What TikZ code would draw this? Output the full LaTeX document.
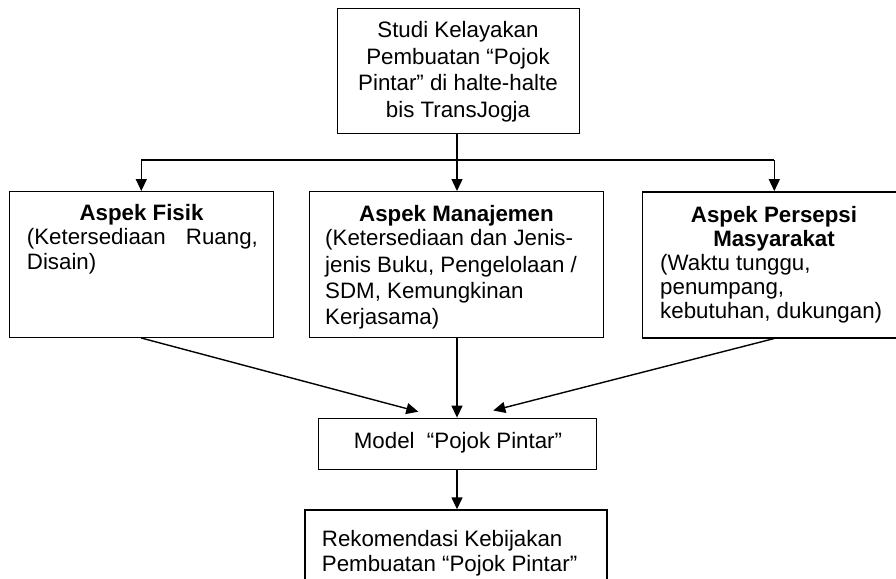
\documentclass[tikz,border=0pt]{standalone}
\usepackage{fontspec}
\setmainfont{Liberation Sans}
\usetikzlibrary{arrows.meta}
\begin{document}
\begin{tikzpicture}[x=1pt,y=-1pt,
  box/.style={draw, line width=1.4pt, inner sep=0pt},
  txt/.style={font=\fontsize{22.3}{26.7}\selectfont, inner sep=0pt},
  ttl/.style={inner sep=0pt, font=\fontsize{22.3}{26.7}\selectfont\bfseries, anchor=base},
  ln/.style={txt, anchor=base west},
  cl/.style={txt, anchor=base},
  conn/.style={line width=1.4pt},
  arr/.style={conn, -{Triangle[length=12pt,width=11pt]}}]
\useasboundingbox (0,0) rectangle (896,578);
\clip (0,0) rectangle (896,578);

% boxes
\node[box, minimum width=242pt, minimum height=125pt] (top) at (458.3,70.8) {};
\node[box, minimum width=264pt, minimum height=145.6pt] (fisik) at (141.3,264.5) {};
\node[box, minimum width=294pt, minimum height=145.6pt] (manaj) at (456.3,264.5) {};
\node[box, minimum width=263.3pt, minimum height=146pt] (persepsi) at (774.3,264.8) {};
\node[box, minimum width=278.4pt, minimum height=51pt] (model) at (457.5,443.8) {};
\node[box, minimum width=302pt, minimum height=90pt] (rec) at (456,555) {};

% texts
\node[cl] (t1) at (458,37.5) {Studi Kelayakan};
\node[cl] (t2) at (458,64) {Pembuatan “Pojok};
\node[cl] (t3) at (458,90.7) {Pintar” di halte-halte};
\node[cl] (t4) at (458,117) {bis TransJogja};

\node[ttl] (f1) at (141.5,220.5) {Aspek Fisik};
\node[ln] (f2) at (26.7,244) {\makebox[231pt][l]{(Ketersediaan\hfill Ruang,}};
\node[ln] (f3) at (26.7,269) {Disain)};

\node[ttl] (m1) at (456.5,221) {Aspek Manajemen};
\node[ln] (m2) at (325,245) {(Ketersediaan dan Jenis-};
\node[ln] (m3) at (325,272) {jenis Buku, Pengelolaan /};
\node[ln] (m4) at (325,298.5) {SDM, Kemungkinan};
\node[ln] (m5) at (325,324.5) {Kerjasama)};

\node[ttl] (p1) at (774,222) {Aspek Persepsi};
\node[ttl] (p2) at (774,246) {Masyarakat};
\node[ln] (p3) at (660,270.5) {(Waktu tunggu,};
\node[ln] (p4) at (660,294.5) {penumpang,};
\node[ln] (p5) at (660,318.5) {kebutuhan, dukungan)};

\node[cl] (mt) at (458,448.3) {Model\ \ “Pojok Pintar”};

\node[ln] (r1) at (321.7,546.7) {Rekomendasi Kebijakan};
\node[ln] (r2) at (321.7,571.7) {Pembuatan “Pojok Pintar”};

% connectors
\coordinate (jy) at (0,160);
\coordinate (cx) at (457,0);
\coordinate (tipl) at (418.3,411.7);
\coordinate (tipr) at (493.3,410.5);
\draw[conn] (cx |- top.south) -- (cx |- jy);
\draw[conn] (fisik.north |- jy) -- (persepsi.north |- jy);
\draw[arr] (fisik.north |- jy) -- (fisik.north);
\draw[arr] (cx |- jy) -- (cx |- manaj.north);
\draw[arr] (persepsi.north |- jy) -- (persepsi.north);
\draw[arr] (fisik.south) -- (tipl);
\draw[arr] (cx |- manaj.south) -- (cx |- model.north);
\draw[arr] (persepsi.south) -- (tipr);
\draw[arr] (cx |- model.south) -- (cx |- rec.north);
\end{tikzpicture}
\end{document}
